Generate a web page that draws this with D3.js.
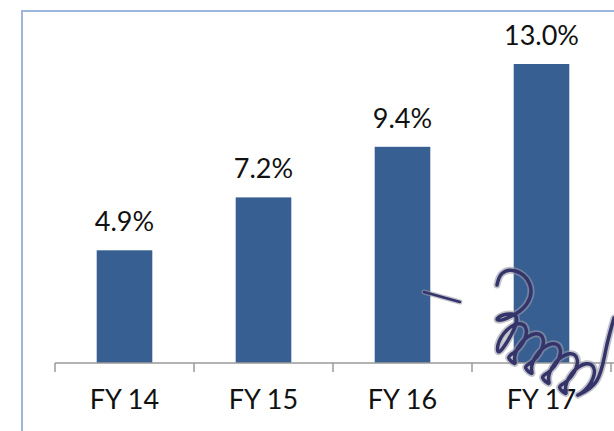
<!DOCTYPE html>
<html>
<head>
<meta charset="utf-8">
<script src="https://cdn.jsdelivr.net/npm/d3@7"></script>
<style>
  html, body { margin: 0; padding: 0; background: #fff; }
  svg { display: block; }
  .label { font-family: Lato, "Noto Sans", sans-serif; font-size: 27px; fill: #111; }
</style>
</head>
<body>
<div id="chart"></div>
<script>
const categories = ['FY 14', 'FY 15', 'FY 16', 'FY 17']
const values = [4.9, 7.2, 9.4, 13.0]

const width = 614
const height = 431

const svg = d3.select('#chart')
  .append('svg')
  .attr('width', width)
  .attr('height', height)

// frame, cut off at right and bottom like the slide
svg.append('rect')
  .attr('x', 22).attr('y', 11)
  .attr('width', 700).attr('height', 500)
  .attr('fill', 'none')
  .attr('stroke', '#9cb7db')
  .attr('stroke-width', 2)

const x = d3.scaleBand()
  .domain(categories)
  .range([55, 611])
  .padding(0)

const y = d3.scaleLinear()
  .domain([0, 14])
  .range([363, 41])

const barW = x.bandwidth() * 0.4

svg.selectAll('.bar')
  .data(values)
  .enter()
  .append('rect')
  .attr('class', 'bar')
  .attr('x', (d, i) => x(categories[i]) + (x.bandwidth() - barW) / 2)
  .attr('y', d => y(d))
  .attr('width', barW)
  .attr('height', d => y(0) - y(d))
  .attr('fill', '#375f91')

// axis line + ticks between categories
const axis = svg.append('g').attr('stroke', '#9a9a9a').attr('stroke-width', 1.5)
axis.append('line')
  .attr('x1', 55).attr('x2', width)
  .attr('y1', y(0)).attr('y2', y(0))

const tickXs = categories.map(c => x(c)).concat([x(categories[3]) + x.bandwidth()])
axis.selectAll('.tick')
  .data(tickXs)
  .enter()
  .append('line')
  .attr('x1', d => d).attr('x2', d => d)
  .attr('y1', y(0)).attr('y2', y(0) + 9)

svg.selectAll('.val')
  .data(values)
  .enter()
  .append('text')
  .attr('class', 'label')
  .attr('text-anchor', 'middle')
  .attr('x', (d, i) => x(categories[i]) + x.bandwidth() / 2)
  .attr('y', d => y(d) - 19)
  .text(d => d.toFixed(1) + '%')

svg.selectAll('.cat')
  .data(categories)
  .enter()
  .append('text')
  .attr('class', 'label')
  .attr('text-anchor', 'middle')
  .attr('x', d => x(d) + x.bandwidth() / 2)
  .attr('y', 409)
  .text(d => d)

// hand-drawn coil doodle scribbled over the last bar (decoration, not data)
const coil = [[497, 285], [500, 272], [515, 268], [533, 282], [530, 305], [510, 318], [494, 322], [500, 314], [525, 312]]
const loops = 5
for (let k = 0; k < loops; k++) {
  const cx = 512 + k * 17
  const cy = 340 + k * 10
  for (let a = 0; a <= Math.PI * 2; a += Math.PI / 6) {
    const ex = 20 * Math.cos(a + Math.PI)
    const ey = 11 * Math.sin(a + Math.PI)
    const r = -0.9
    coil.push([cx + ex * Math.cos(r) - ey * Math.sin(r), cy + ex * Math.sin(r) + ey * Math.cos(r)])
  }
}
coil.push([600, 385], [605, 350], [614, 318])
const line = d3.line().curve(d3.curveBasis)
const doodle = svg.append('g').attr('fill', 'none').attr('stroke-linecap', 'round')
doodle.append('path').attr('d', line(coil)).attr('stroke', '#9a9aa8').attr('stroke-width', 7).attr('opacity', 0.6)
doodle.append('path').attr('d', line(coil)).attr('stroke', '#34346a').attr('stroke-width', 3.5)
doodle.append('path').attr('d', 'M424,292 L460,302').attr('stroke', '#9a9aa8').attr('stroke-width', 5).attr('opacity', 0.6)
doodle.append('path').attr('d', 'M424,292 L460,302').attr('stroke', '#34346a').attr('stroke-width', 2.5)
</script>
</body>
</html>
